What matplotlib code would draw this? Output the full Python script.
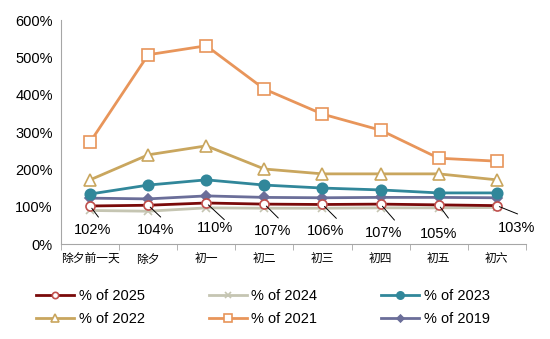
import numpy as np
import matplotlib
matplotlib.use("Agg")
import matplotlib.pyplot as plt
from matplotlib.ticker import FuncFormatter

plt.rcParams['font.family'] = ['Liberation Sans', 'Noto Sans CJK SC', 'DejaVu Sans']

days = ["除夕前一天", "除夕", "初一", "初二", "初三", "初四", "初五", "初六"]

pct_2025 = [102, 104, 110, 107, 106, 107, 105, 103]
pct_2024 = [90, 88, 97, 96, 96, 97, 97, 98]
pct_2023 = [134, 158, 172, 158, 150, 145, 137, 137]
pct_2022 = [172, 239, 263, 201, 188, 188, 188, 172]
pct_2021 = [273, 507, 531, 415, 348, 305, 230, 222]
pct_2019 = [123, 121, 129, 125, 124, 125, 125, 124]

# label / leader line offsets in points
label_offsets = [(1.5, -12), (5, -13), (6.5, -13), (6, -14), (2, -14), (2, -16), (0, -16), (14, -11)]
line_ends = [(6, -8), (9, -8.5), (13, -12), (10, -10), (10, -10), (10, -11.5), (7, -9.5), (15, -6)]

fig = plt.figure(figsize=(5.5, 3.39), dpi=100)
ax = fig.add_axes([0.111, 0.28, 0.845, 0.661])
x = np.arange(len(days))

series = [
    ("% of 2019", pct_2019, "#6B6E99", "D", 5, "#6B6E99", 3),
    ("% of 2021", pct_2021, "#E8955A", "s", 8.5, "white", 3),
    ("% of 2022", pct_2022, "#C9A65E", "^", 8, "white", 3),
    ("% of 2023", pct_2023, "#31879A", "o", 7.5, "#31879A", 3),
    ("% of 2024", pct_2024, "#C5C5B2", "x", 6, "#C5C5B2", 3),
    ("% of 2025", pct_2025, "#7A0A0A", "o", 6.5, "white", 4),
]
handles = {}
for name, vals, col, mk, ms, face, z in series:
    ln, = ax.plot(x, vals, color=col, lw=2, marker=mk, markersize=ms,
                  markerfacecolor=face, markeredgecolor=col if name != "% of 2025" else "#C0504D",
                  markeredgewidth=1.2, label=name, zorder=z)
    handles[name] = ln

for i, v in enumerate(pct_2025):
    ax.annotate("", xy=(i, v), xytext=line_ends[i], textcoords="offset points",
                arrowprops=dict(arrowstyle="-", color="black", lw=0.7, shrinkA=0, shrinkB=2), zorder=5)
    ax.annotate(f"{v}%", xy=(i, v), xytext=label_offsets[i], textcoords="offset points",
                ha="center", va="top", fontsize=10.5)

ax.set_xlim(-0.5, len(days) - 0.5)
ax.set_ylim(0, 600)
ax.set_yticks(range(0, 601, 100))
ax.yaxis.set_major_formatter(FuncFormatter(lambda v, p: f"{int(v)}%"))
ax.tick_params(axis="y", length=0, labelsize=10.5, pad=6)
ax.set_xticks(x)
ax.set_xticklabels(days, fontsize=8.5)
ax.set_xticks(np.arange(-0.5, len(days), 1), minor=True)
ax.tick_params(axis="x", which="major", length=0, pad=7)
ax.tick_params(axis="x", which="minor", length=4, color="#A6A6A6")
for s in ["top", "right"]:
    ax.spines[s].set_visible(False)
for s in ["left", "bottom"]:
    ax.spines[s].set_color("#A6A6A6")

order = ["% of 2025", "% of 2022", "% of 2024", "% of 2021", "% of 2023", "% of 2019"]
fig.legend([handles[k] for k in order], order, ncol=3, loc="lower center",
           bbox_to_anchor=(0.478, 0.0), frameon=False, fontsize=10.5, markerscale=0.7,
           handlelength=2.6, handletextpad=0.3, columnspacing=4.4, labelspacing=0.6)

fig.savefig("out.png", dpi=100)
